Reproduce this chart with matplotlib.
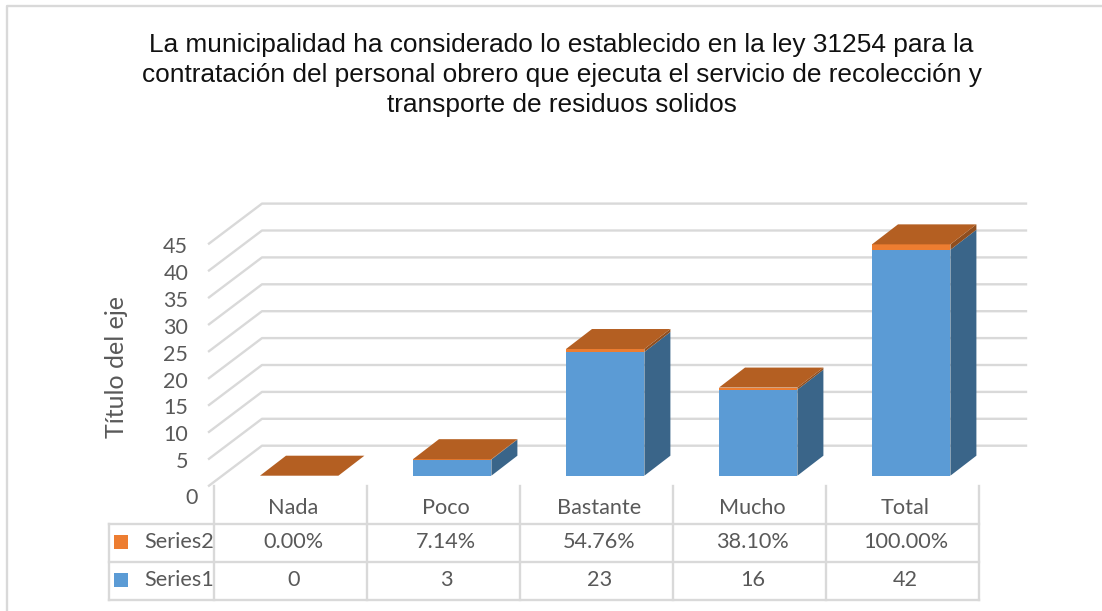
import matplotlib
matplotlib.use('Agg')
import matplotlib.pyplot as plt
from matplotlib.patches import Polygon, Rectangle
from matplotlib.transforms import ScaledTranslation

categories = ['Nada', 'Poco', 'Bastante', 'Mucho', 'Total']
series1 = [0, 3, 23, 16, 42]
series2 = [0.0, 0.0714, 0.5476, 0.3810, 1.0]
series1_labels = ['0', '3', '23', '16', '42']
series2_labels = ['0.00%', '7.14%', '54.76%', '38.10%', '100.00%']
yticks = [5, 10, 15, 20, 25, 30, 35, 40, 45]

title = ('La municipalidad ha considerado lo establecido en la ley 31254 para la\n'
         'contratación del personal obrero que ejecuta el servicio de recolección y\n'
         'transporte de residuos solidos')

W, H = 1102, 611
BLUE, BLUE_SIDE = '#5b9bd5', '#3a6589'
ORANGE, ORANGE_TOP, ORANGE_SIDE = '#ed7d31', '#b45f22', '#8f4e1f'
GRID = '#d9d9d9'
TEXT = '#595959'
FONT = ['Lato', 'DejaVu Sans']
TABLE_SIZE = 15.6

# pixel layout of the chart
LEFT, RIGHT, TOP, FLOOR = 209, 1026, 203, 485.7
COL0, COLW = 290.3, 153.0  # centre of first column, column width
UNIT = 5.38                # pixels per value unit
DX, DY = 53, 40            # depth of the floor
BAR_W, BAR_DX, BAR_DY = 78.4, 26, 20

fig = plt.figure(figsize=(W / 100, H / 100), dpi=100)
ax = fig.add_axes([LEFT / W, 1 - FLOOR / H, (RIGHT - LEFT) / W, (FLOOR - TOP) / H])
ax.set_xlim((LEFT - COL0) / COLW, (RIGHT - COL0) / COLW)
ax.set_ylim(0, (FLOOR - TOP) / UNIT)
ax.patch.set_visible(False)
for s in ax.spines.values():
    s.set_visible(False)
ax.set_xticks([])
ax.set_yticks(yticks)
ax.tick_params(axis='y', length=0, pad=15, labelsize=15.5, labelcolor=TEXT)
down = ScaledTranslation(0, -1.5 / 100, fig.dpi_scale_trans)
for t in ax.get_yticklabels():
    t.set_family(FONT)
    t.set_transform(t.get_transform() + down)

dx = DX / COLW
dy = DY / UNIT
bdx = BAR_DX / COLW
bdy = BAR_DY / UNIT
bw = BAR_W / COLW
off = 10 / UNIT     # bars stand in the middle of the floor
shift = 8.9 / COLW  # and a bit right of the column centre

# grid: diagonal on the side wall, then flat along the back
x0 = ax.get_xlim()[0]
x1 = ax.get_xlim()[1]
for v in [0] + yticks:
    ax.plot([x0, x0 + dx, x1], [v, v + dy, v + dy], color=GRID, lw=1.7, zorder=1, clip_on=False)

# stacked 3d bars, they do not overlap so the order is free
for i, cat in enumerate(categories):
    xc = i + shift
    l, r = xc - bw / 2, xc + bw / 2
    a, b = series1[i], series2[i]
    ax.bar(xc, a, bw, bottom=off, color=BLUE, zorder=3)
    ax.bar(xc, b, bw, bottom=off + a, color=ORANGE, zorder=3)
    if a > 0:
        ax.add_patch(Polygon([(r, off), (r + bdx, off + bdy), (r + bdx, off + a + bdy), (r, off + a)],
                             fc=BLUE_SIDE, ec='none', zorder=3))
    ax.add_patch(Polygon([(r, off + a), (r + bdx, off + a + bdy), (r + bdx, off + a + b + bdy), (r, off + a + b)],
                         fc=ORANGE_SIDE, ec='none', zorder=3))
    top = off + a + b
    ax.add_patch(Polygon([(l, top), (l + bdx, top + bdy), (r + bdx, top + bdy), (r, top)],
                         fc=ORANGE_TOP, ec='none', zorder=4))

# the 0 label sits lower and further right than the others
ax.text(x0 - 11 / COLW, -12 / UNIT, '0', ha='right', va='center', fontsize=15.5, color=TEXT,
        family=FONT, clip_on=False)
fig.text(117 / W, 1 - 367 / H, 'Título del eje', rotation=90, ha='center', va='center',
         fontsize=18, color=TEXT, family=FONT)
fig.text(561.5 / W, 1 - 75 / H, title, ha='center', va='center', fontsize=18.95, color='#111111',
         family='Liberation Sans', linespacing=1.31, multialignment='center')


# data table, drawn in figure pixels
def line(xs, ys):
    fig.add_artist(plt.Line2D([x / W for x in xs], [1 - y / H for y in ys], color=GRID, lw=1.7))


ROWS = [523.7, 561.7, 599.7]
n = len(categories)
TL, TR = 109, COL0 - COLW / 2 + n * COLW
for y in ROWS:
    line([TL, TR], [y, y])
line([TL, TL], [ROWS[0], ROWS[2]])
for i in range(n + 1):
    x = COL0 - COLW / 2 + i * COLW
    line([x, x], [486, ROWS[2]])

# table text sits a little right of the column centres
for i, cat in enumerate(categories):
    x = (COL0 + 3 + i * COLW) / W
    fig.text(x, 1 - 508.5 / H, cat, ha='center', va='center', fontsize=TABLE_SIZE, color=TEXT, family=FONT)
    fig.text(x, 1 - 542.5 / H, series2_labels[i], ha='center', va='center', fontsize=TABLE_SIZE, color=TEXT, family=FONT)
    fig.text(x, 1 - 580.5 / H, series1_labels[i], ha='center', va='center', fontsize=TABLE_SIZE, color=TEXT, family=FONT)

for name, color, y in [('Series2', ORANGE, 541.5), ('Series1', BLUE, 579.5)]:
    fig.add_artist(Rectangle((114 / W, 1 - (y + 7) / H), 14 / W, 14 / H, fc=color, ec='none',
                             transform=fig.transFigure))
    fig.text(144.5 / W, 1 - (y + 1) / H, name, ha='left', va='center', fontsize=TABLE_SIZE, color=TEXT, family=FONT)

# chart border runs off the picture on the right and bottom
line([W, 7, 7], [6, 6, H])

fig.savefig('out.png', dpi=100)
